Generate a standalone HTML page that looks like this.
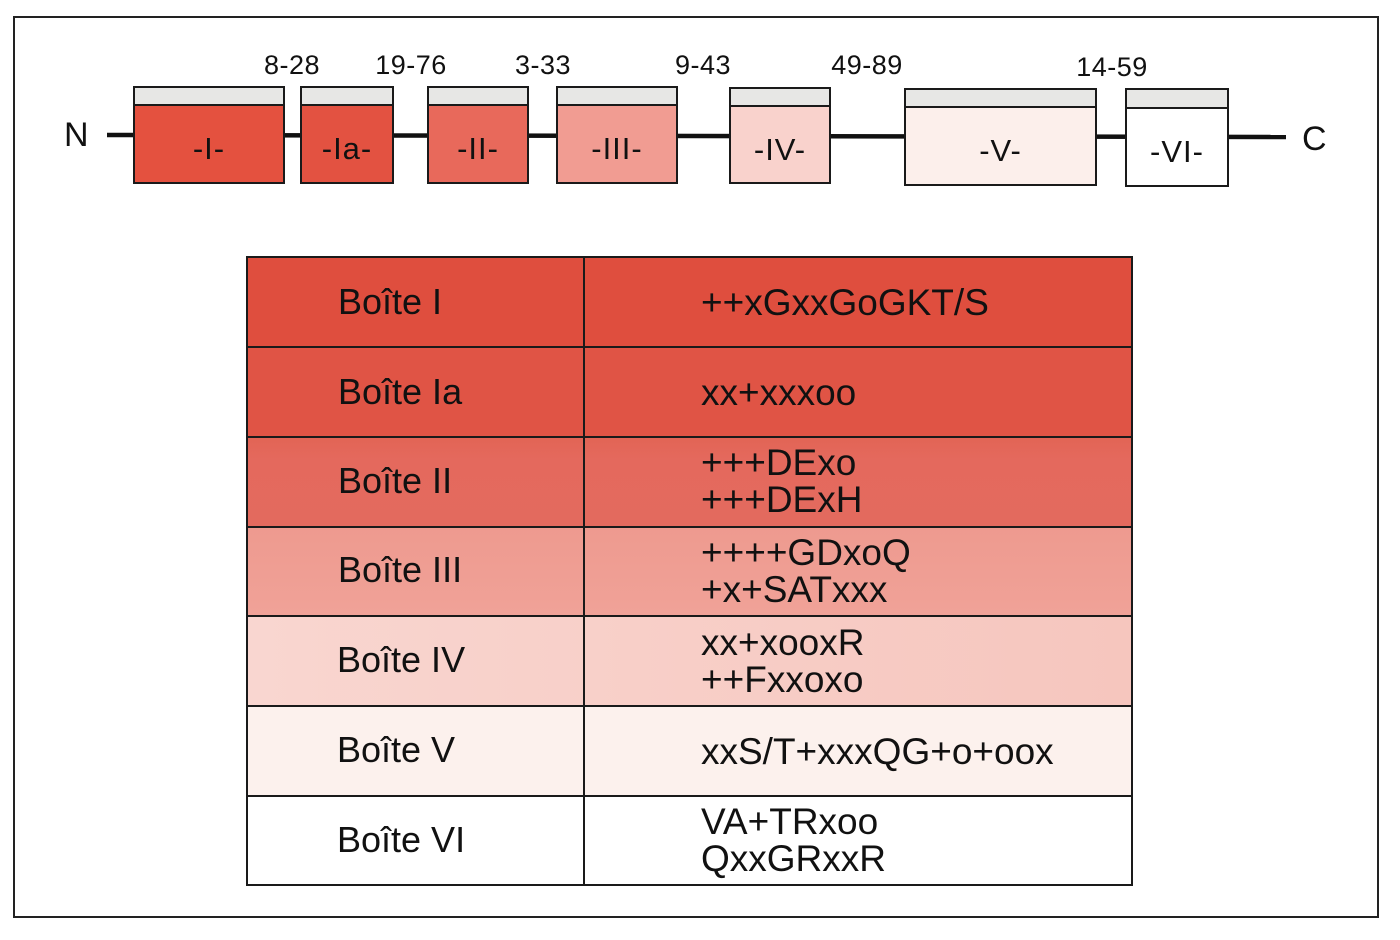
<!DOCTYPE html>
<html>
<head>
<meta charset="utf-8">
<style>
  html,body{margin:0;padding:0;background:#fff;}
  body{width:1400px;height:940px;position:relative;overflow:hidden;font-family:"Liberation Sans",Arial,sans-serif;color:#111;}
  .abs{position:absolute;}
  .frame{left:13px;top:16px;width:1362px;height:898px;border:2px solid #222;box-sizing:content-box;}
  .box{position:absolute;border:2px solid #1a1a1a;box-sizing:border-box;}
  .band{position:absolute;left:0;right:0;top:0;height:16px;background:#e7e7e5;border-bottom:2px solid #1a1a1a;}
  .blab{position:absolute;left:0;right:0;bottom:0;top:28px;display:flex;align-items:center;justify-content:center;font-size:31px;letter-spacing:1px;}
  .lbl{position:absolute;font-size:27px;letter-spacing:0.5px;line-height:1;transform:translateX(-50%);white-space:nowrap;}
  .row{position:absolute;left:247px;width:885px;}
  .cell{position:absolute;font-size:36px;line-height:37px;}
  .hl{position:absolute;left:247px;width:885px;height:2px;background:#1a1a1a;}
</style>
</head>
<body>
<div class="abs frame"></div>

<!-- protein line -->
<svg class="abs" style="left:0;top:0" width="1400" height="240">
  <line x1="107" y1="135" x2="1286" y2="137" stroke="#111" stroke-width="4.5"/>
</svg>
<div class="abs" style="left:64px;top:118px;font-size:34px;line-height:1;">N</div>
<div class="abs" style="left:1302px;top:122px;font-size:34px;line-height:1;">C</div>

<!-- labels -->
<div class="lbl" style="left:292px;top:52px;">8-28</div>
<div class="lbl" style="left:411px;top:52px;">19-76</div>
<div class="lbl" style="left:543px;top:52px;">3-33</div>
<div class="lbl" style="left:703px;top:52px;">9-43</div>
<div class="lbl" style="left:867px;top:52px;">49-89</div>
<div class="lbl" style="left:1112px;top:54px;">14-59</div>

<!-- boxes -->
<div class="box" style="left:133px;top:86px;width:152px;height:98px;background:#e4513f;"><div class="band"></div><div class="blab">-I-</div></div>
<div class="box" style="left:300px;top:86px;width:94px;height:98px;background:#e35241;"><div class="band"></div><div class="blab">-Ia-</div></div>
<div class="box" style="left:427px;top:86px;width:102px;height:98px;background:#e8695b;"><div class="band"></div><div class="blab">-II-</div></div>
<div class="box" style="left:556px;top:86px;width:122px;height:98px;background:#f19c92;"><div class="band"></div><div class="blab">-III-</div></div>
<div class="box" style="left:729px;top:87px;width:102px;height:97px;background:#f9d2cc;"><div class="band"></div><div class="blab">-IV-</div></div>
<div class="box" style="left:904px;top:88px;width:193px;height:98px;background:#fcefeb;"><div class="band"></div><div class="blab">-V-</div></div>
<div class="box" style="left:1125px;top:88px;width:104px;height:99px;background:#ffffff;"><div class="band" style="height:17px"></div><div class="blab" style="top:29px">-VI-</div></div>

<!-- table rows backgrounds -->
<div class="row" style="top:257px;height:90px;background:#df4e3e;"></div>
<div class="row" style="top:347px;height:90px;background:#e05445;"></div>
<div class="row" style="top:437px;height:90px;background:linear-gradient(#e26455,#e4695d 25%,#e36a5e);"></div>
<div class="row" style="top:527px;height:89px;background:linear-gradient(#ee9a8f,#f0a298);"></div>
<div class="row" style="top:616px;height:90px;background:linear-gradient(90deg,#f9d6d0,#f6c6be);"></div>
<div class="row" style="top:706px;height:90px;background:#fcf1ed;"></div>
<div class="row" style="top:796px;height:89px;background:#ffffff;"></div>

<!-- table lines -->
<div class="hl" style="top:256px;"></div>
<div class="hl" style="top:346px;"></div>
<div class="hl" style="top:436px;"></div>
<div class="hl" style="top:526px;"></div>
<div class="hl" style="top:615px;"></div>
<div class="hl" style="top:705px;"></div>
<div class="hl" style="top:795px;"></div>
<div class="hl" style="top:884px;"></div>
<div class="abs" style="left:246px;top:256px;width:2px;height:630px;background:#1a1a1a;"></div>
<div class="abs" style="left:583px;top:256px;width:2px;height:630px;background:#1a1a1a;"></div>
<div class="abs" style="left:1131px;top:256px;width:2px;height:630px;background:#1a1a1a;"></div>

<!-- left column text -->
<div class="cell" style="left:338px;top:283px;">Boîte I</div>
<div class="cell" style="left:338px;top:373px;">Boîte Ia</div>
<div class="cell" style="left:338px;top:462px;">Boîte II</div>
<div class="cell" style="left:338px;top:551px;">Boîte III</div>
<div class="cell" style="left:337px;top:641px;">Boîte IV</div>
<div class="cell" style="left:337px;top:731px;">Boîte V</div>
<div class="cell" style="left:337px;top:821px;">Boîte VI</div>

<!-- right column text -->
<div class="cell" style="left:701px;top:284px;font-size:37px;">++xGxxGoGKT/S</div>
<div class="cell" style="left:701px;top:374px;font-size:37px;">xx+xxxoo</div>
<div class="cell" style="left:701px;top:444px;font-size:37px;">+++DExo<br>+++DExH</div>
<div class="cell" style="left:701px;top:534px;font-size:37px;">++++GDxoQ<br>+x+SATxxx</div>
<div class="cell" style="left:701px;top:624px;font-size:37px;">xx+xooxR<br>++Fxxoxo</div>
<div class="cell" style="left:701px;top:733px;font-size:37px;">xxS/T+xxxQG+o+oox</div>
<div class="cell" style="left:701px;top:803px;font-size:37px;">VA+TRxoo<br>QxxGRxxR</div>
</body>
</html>
